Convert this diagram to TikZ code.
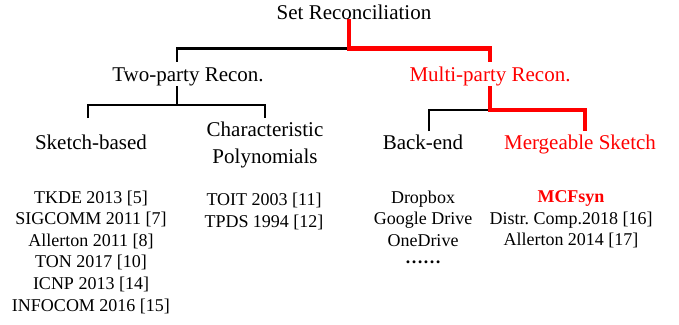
\documentclass[tikz,border=0pt]{standalone}
\usepackage{fontspec}
\setmainfont{Liberation Serif}
\usepackage{xcolor}
\usetikzlibrary{positioning,calc}
\frenchspacing

\begin{document}
\begin{tikzpicture}[x=1pt, y=1pt,
    head/.style={font=\fontsize{21}{26.3}\selectfont, inner sep=0pt},
    item/.style={font=\fontsize{18}{21.6}\selectfont, inner sep=0pt, align=center, anchor=north},
    blackline/.style={line width=2.2pt, black},
    redline/.style={line width=4.5pt, red}]
    \useasboundingbox (0,0) rectangle (679,-324);

    % Tree nodes
    \node[head, anchor=base] (root) at (354,-19) {Set Reconciliation};
    \node[head, anchor=base] (tp) at (188,-81.7) {Two-party Recon.};
    \node[head, anchor=base, red] (mp) at (490,-81.7) {Multi-party Recon.};
    \node[head, anchor=base] (sk) at (91,-149.3) {Sketch-based};
    \node[head, align=center] (cp) at (265,-145) {Characteristic\\Polynomials};
    \node[head, anchor=base] (be) at (423,-149) {Back-end};
    \node[head, anchor=base, red] (ms) at (580,-149) {Mergeable Sketch};

    % Branch levels
    \coordinate (j0) at (349,-48.5);
    \coordinate (j1) at (177,-105);
    \coordinate (j2) at (0,-110);
    \coordinate (e1) at (0,-62);
    \coordinate (e2) at (0,-118);
    \coordinate (e3) at (0,-131);

    % Black branches
    \draw[blackline] (j0) -| ([xshift=-11pt]tp.north |- e1);
    \draw[blackline] ([xshift=-11pt]tp.south) -- (j1);
    \draw[blackline] ([xshift=-3pt]sk.north |- e2) |- (j1) -| (cp.north |- e2);
    \draw[blackline] ([xshift=6pt]be.north |- e3) |- (mp.south |- j2);

    % Red branches (path to our work)
    \draw[redline] ([xshift=-5pt]root.south) -- (j0) -| (mp.north |- e1);
    \draw[redline] (mp.south) -- (mp.south |- j2) -| ([xshift=5pt]ms.north |- e3);

    % Reference lists
    \node[item] (lst1) at (91,-190.5) {TKDE 2013 [5]\\SIGCOMM 2011 [7]\\Allerton 2011 [8]\\TON 2017 [10]\\ICNP 2013 [14]\\INFOCOM 2016 [15]};
    \node[item] (lst2) at (264,-193) {TOIT 2003 [11]\\TPDS 1994 [12]};
    \node[item] (lst3) at (423,-190.5) {Dropbox\\Google Drive\\OneDrive\\{\bfseries\raisebox{4pt}{……}}};
    \node[item] (lst4) at (571,-190.5) {\textcolor{red}{\bfseries MCFsyn}\\Distr. Comp.2018 [16]\\Allerton 2014 [17]};
\end{tikzpicture}
\end{document}
